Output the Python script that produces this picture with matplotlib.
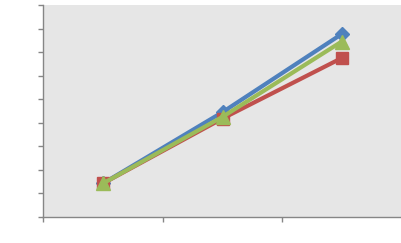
import matplotlib
matplotlib.use('Agg')
import matplotlib.pyplot as plt

categories = ['A', 'B', 'C']
series_blue = [1.43, 4.45, 7.77]
series_red = [1.43, 4.18, 6.75]
series_green = [1.43, 4.25, 7.45]
y_ticks = list(range(0, 10))

fig = plt.figure(figsize=(4.02, 2.43), dpi=100)
ax = fig.add_axes([43.5 / 402, 26 / 243, 358 / 402, 212 / 243])
ax.set_facecolor('#e6e6e6')

x = range(len(categories))
ax.plot(x, series_blue, color='#4f81bd', lw=3, marker='D', ms=7.5, zorder=3)
ax.plot(x, series_red, color='#c0504d', lw=3, marker='s', ms=8, zorder=3)
ax.plot(x, series_green, color='#9bbb59', lw=3, marker='^', ms=9.5, zorder=3)

ax.set_xlim(-0.5, len(categories) - 0.5)
ax.set_ylim(0, 9)
ax.set_xticks([i - 0.5 for i in range(len(categories) + 1)])
ax.set_yticks(y_ticks)
ax.set_xticklabels([])
ax.set_yticklabels([])
ax.tick_params(direction='out', length=3.5, width=1, color='#868686')

for side in ['top', 'right']:
    ax.spines[side].set_visible(False)
for side in ['left', 'bottom']:
    ax.spines[side].set_color('#868686')
    ax.spines[side].set_linewidth(1)

fig.savefig('out.png', dpi=100)
